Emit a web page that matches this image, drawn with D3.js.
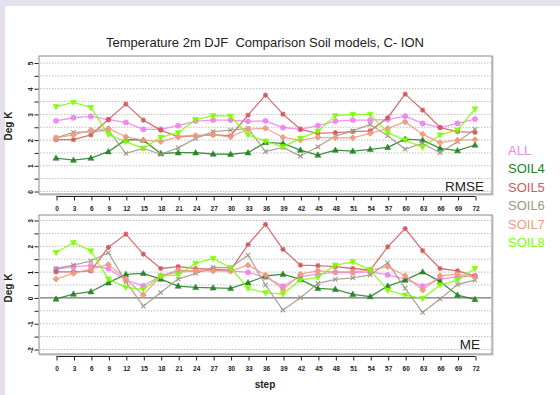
<!DOCTYPE html>
<html><head><meta charset="utf-8">
<script src="https://cdn.jsdelivr.net/npm/d3@7"></script>
<style>
html,body{margin:0;padding:0;background:#fff;}
svg{display:block;}
</style></head>
<body>
<svg id="chart" width="560" height="395"></svg>
<script>
const steps = [0,3,6,9,12,15,18,21,24,27,30,33,36,39,42,45,48,51,54,57,60,63,66,69,72];
const seriesNames = ["ALL","SOIL4","SOIL5","SOIL6","SOIL7","SOIL8"];
const seriesColors = ["#ee82ee","#1f7f1f","#d25a5a","#a29684","#f09a7e","#7cfc00"];
const seriesShapes = ["circle","triUp","asterisk","times","diamondPlus","triDown"];

const rmseALL   = [2.73,2.85,2.90,2.78,2.67,2.40,2.40,2.54,2.72,2.76,2.76,2.71,2.73,2.47,2.40,2.54,2.72,2.76,2.76,2.78,2.91,2.63,2.47,2.63,2.80];
const rmseSOIL4 = [1.28,1.20,1.28,1.53,2.00,1.98,1.46,1.49,1.49,1.44,1.43,1.49,1.89,1.85,1.59,1.40,1.59,1.55,1.62,1.70,2.02,1.98,1.66,1.57,1.79];
const rmseSOIL5 = [2.00,2.00,2.18,2.78,3.38,2.76,2.37,2.11,2.15,2.18,2.15,2.95,3.73,2.99,2.40,2.24,2.27,2.31,2.34,2.85,3.77,3.15,2.47,2.31,2.28];
const rmseSOIL6 = [2.07,2.28,2.30,2.37,1.46,1.66,1.43,1.68,2.05,2.31,2.37,2.44,1.53,1.70,1.36,1.72,2.14,2.34,2.59,2.15,1.63,1.85,1.49,1.92,2.40];
const rmseSOIL7 = [2.07,2.18,2.37,2.43,2.11,1.98,1.92,2.11,2.15,2.18,2.11,2.40,2.44,2.09,1.98,2.09,2.07,2.07,2.24,2.44,2.69,2.21,1.88,1.98,2.00];
const rmseSOIL8 = [3.28,3.45,3.25,2.20,1.92,1.66,2.09,2.27,2.78,2.93,2.91,2.18,1.94,1.72,2.05,2.33,2.93,2.98,2.98,2.27,1.98,1.70,2.18,2.37,3.19];

const meALL   = [1.09,1.19,1.23,1.12,0.67,0.45,0.83,0.99,1.02,1.06,1.03,0.97,0.78,0.44,0.80,0.90,0.97,0.96,0.99,0.87,0.71,0.44,0.71,0.80,0.83];
const meSOIL4 = [-0.06,0.13,0.22,0.57,0.89,0.93,0.71,0.44,0.39,0.37,0.35,0.57,0.83,0.90,0.70,0.35,0.31,0.12,0.03,0.44,0.67,0.99,0.61,0.09,-0.08];
const meSOIL5 = [0.99,0.99,1.03,1.94,2.45,1.68,1.12,1.19,1.12,1.09,1.06,2.05,2.83,1.86,1.25,1.23,1.19,1.12,1.06,1.96,2.67,1.81,1.12,1.03,0.83];
const meSOIL6 = [1.12,1.25,1.42,1.73,0.61,-0.34,0.19,0.71,0.93,1.16,1.15,1.64,0.48,-0.49,-0.01,0.54,0.70,0.76,0.87,1.34,0.35,-0.58,-0.06,0.50,0.67];
const meSOIL7 = [0.71,0.93,1.10,1.28,0.71,0.09,0.83,1.06,1.03,1.03,1.02,1.25,0.87,0.31,0.90,1.03,0.99,0.99,1.06,1.19,0.84,0.28,0.84,0.90,0.78];
const meSOIL8 = [1.74,2.12,1.80,0.71,0.39,0.31,0.83,0.87,1.32,1.51,1.15,0.35,0.18,0.13,0.67,0.78,1.25,1.38,1.06,0.28,0.09,-0.04,0.48,0.67,1.12];

const rmseTicks = [0,1,2,3,4,5];
const meTicks = [-2,-1,0,1,2,3];

const rmseSeries = [rmseALL,rmseSOIL4,rmseSOIL5,rmseSOIL6,rmseSOIL7,rmseSOIL8];
const meSeries = [meALL,meSOIL4,meSOIL5,meSOIL6,meSOIL7,meSOIL8];

const svg = d3.select("#chart");
const FONT = "'Liberation Sans', Arial, Helvetica, sans-serif";

// page background strips
svg.append("rect").attr("x",0).attr("y",0).attr("width",560).attr("height",395).attr("fill","#ffffff");
svg.append("rect").attr("x",0).attr("y",0).attr("width",560).attr("height",6).attr("fill","#e6e0ee");
svg.append("rect").attr("x",0).attr("y",0).attr("width",5).attr("height",395).attr("fill","#e6e0ee");

const x = d3.scaleLinear().domain([0,72]).range([56,475]);

function symPath(shape){
  const s = 2.6;
  switch(shape){
    case "circle": return d3.symbol(d3.symbolCircle, 22)();
    case "triUp": return `M0,${-s-0.6}L${s+0.4},${s-0.4}L${-s-0.4},${s-0.4}Z`;
    case "triDown": return `M0,${s+0.6}L${s+0.4},${-s+0.4}L${-s-0.4},${-s+0.4}Z`;
    case "asterisk": return `M${-s},0L${s},0M0,${-s}L0,${s}M${-s*0.75},${-s*0.75}L${s*0.75},${s*0.75}M${-s*0.75},${s*0.75}L${s*0.75},${-s*0.75}`;
    case "times": return `M${-s*0.85},${-s*0.85}L${s*0.85},${s*0.85}M${-s*0.85},${s*0.85}L${s*0.85},${-s*0.85}`;
    case "diamondPlus": return `M0,${-s}L${s},0L0,${s}L${-s},0ZM${-s},0L${s},0M0,${-s}L0,${s}`;
  }
}
const filledShapes = {circle:true, triUp:true, triDown:true};

function panel(opts){
  const {top, bottom, domain, ticks, data, label, zeroLine, labelY} = opts;
  const left = 39, right = 492;
  const y = d3.scaleLinear().domain(domain).range([opts.yBottom, opts.yTop]);
  const g = svg.append("g");
  // box with slight shadow
  g.append("rect").attr("x",left+1).attr("y",top+1).attr("width",right-left).attr("height",bottom-top)
    .attr("fill","none").attr("stroke","#d8d8d8").attr("stroke-width",1.5);
  g.append("rect").attr("x",left).attr("y",top).attr("width",right-left).attr("height",bottom-top)
    .attr("fill","#fff").attr("stroke","#8a8a8a").attr("stroke-width",1);
  // grid lines every 0.5
  const grid = d3.range(domain[0], domain[1]+0.001, 0.5);
  g.selectAll("line.grid").data(grid).join("line")
    .attr("x1",left+1).attr("x2",right-1)
    .attr("y1",d=>y(d)+0.5).attr("y2",d=>y(d)+0.5)
    .attr("stroke",d=> (zeroLine && d===0) ? "#555" : "#bdbdbd")
    .attr("stroke-width",1)
    .attr("stroke-dasharray",d=> (zeroLine && d===0) ? null : "1.5,1.5");
  // y axis ticks (every 0.5), labels at integers
  const yAxis = d3.axisLeft(y).tickValues(grid).tickSize(4).tickFormat(d=> ticks.includes(d) ? d : "");
  const ya = g.append("g").attr("transform",`translate(${left-0.5},0.5)`).call(yAxis);
  ya.select(".domain").remove();
  ya.selectAll(".tick line").attr("stroke","#222");
  ya.selectAll(".tick text").attr("font-family",FONT).attr("font-size",6.5).attr("font-weight","bold")
    .attr("fill","#111").attr("text-anchor","middle").attr("dy",0)
    .attr("transform","translate(-8,0) rotate(-90)").attr("x",0).attr("y",2.2);
  // x axis
  const xAxis = d3.axisBottom(x).tickValues(steps).tickSize(4).tickFormat(d=>d);
  const xa = g.append("g").attr("transform",`translate(0.5,${bottom+2.5})`).call(xAxis);
  xa.select(".domain").attr("stroke","#222").attr("d",`M${x(0)},0H${x(72)}`);
  xa.selectAll(".tick line").attr("stroke","#222");
  xa.selectAll(".tick text").attr("font-family",FONT).attr("font-size",6.5).attr("font-weight","bold")
    .attr("fill","#222").attr("y",9.5);
  // series
  const line = d3.line().x((d,i)=>x(steps[i])).y(d=>y(d));
  data.forEach((vals, si)=>{
    const col = seriesColors[si];
    g.append("path").attr("d",line(vals)).attr("fill","none").attr("stroke",col)
      .attr("stroke-width",1.3).attr("stroke-opacity",0.85).attr("stroke-linejoin","round");
    const shape = seriesShapes[si];
    g.selectAll(null).data(vals).join("path")
      .attr("transform",(d,i)=>`translate(${x(steps[i])},${y(d)})`)
      .attr("d",symPath(shape))
      .attr("fill",filledShapes[shape] ? col : "none")
      .attr("fill-opacity",0.9)
      .attr("stroke",col).attr("stroke-width",filledShapes[shape]?0.5:1.1);
  });
  // panel label
  g.append("text").attr("x",opts.labelX).attr("y",labelY).attr("text-anchor","end")
    .attr("font-family",FONT).attr("font-size",opts.labelSize).attr("fill","#222").text(label);
  // y title
  g.append("text").attr("transform",`translate(12,${opts.titleY}) rotate(-90)`).attr("text-anchor","middle")
    .attr("font-family",FONT).attr("font-size",10).attr("font-weight","bold").attr("fill","#222").text("Deg K");
}

panel({top:56, bottom:194, yTop:62.5, yBottom:191, domain:[0,5], ticks:rmseTicks, data:rmseSeries,
  label:"RMSE", labelX:484, labelY:191, labelSize:13.5, zeroLine:false, titleY:126});
panel({top:215, bottom:354, yTop:220, yBottom:349, domain:[-2,3], ticks:meTicks, data:meSeries,
  label:"ME", labelX:480, labelY:349, labelSize:13.5, zeroLine:true, titleY:288});

// title
svg.append("text").attr("x",265).attr("y",47).attr("text-anchor","middle")
  .attr("font-family",FONT).attr("font-size",13).attr("fill","#222")
  .style("white-space","pre").attr("xml:space","preserve")
  .text("Temperature 2m DJF  Comparison Soil models, C- ION");

// step label
svg.append("text").attr("x",265).attr("y",388).attr("text-anchor","middle")
  .attr("font-family",FONT).attr("font-size",10).attr("font-weight","bold").attr("fill","#222").text("step");

// legend
const lg = svg.append("g");
seriesNames.forEach((n,i)=>{
  lg.append("text").attr("x",508).attr("y",155 + i*18.4)
    .attr("font-family",FONT).attr("font-size",13).attr("fill",seriesColors[i]).text(n);
});
</script>
</body></html>
